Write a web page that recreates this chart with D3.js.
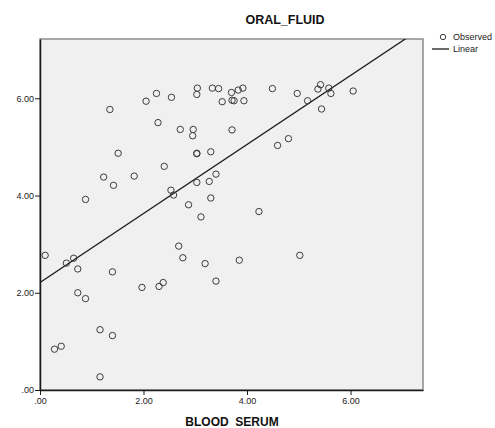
<!DOCTYPE html>
<html>
<head>
<meta charset="utf-8">
<script src="https://cdn.jsdelivr.net/npm/d3@7"></script>
<style>
  body { margin: 0; background: #fff; }
  text { font-family: "Liberation Sans", Arial, sans-serif; }
</style>
</head>
<body>
<script>
// blood serum (x) vs oral fluid (y)
var serum = [0.88, 1.35, 1.51, 1.23, 1.42, 1.82, 2.05, 2.25, 2.54, 2.28, 2.71, 2.40, 2.53, 2.58,
  2.87, 3.11, 2.96, 2.95, 3.03, 3.03, 3.03, 3.04, 3.03, 3.30, 3.27, 3.40, 3.30, 3.33, 3.45,
  3.52, 3.70, 3.71, 3.75, 3.83, 3.92, 3.94, 3.71, 4.49, 4.97, 5.17, 5.42, 5.37, 5.58, 5.62,
  5.44, 6.05, 4.80, 4.59, 4.23, 0.10, 0.51, 0.65, 0.73, 0.73, 0.88, 0.28, 0.41, 1.16, 1.40,
  1.16, 1.40, 1.97, 2.30, 2.38, 2.68, 2.76, 3.19, 3.40, 3.85, 5.02];
var oral = [3.92, 5.77, 4.87, 4.38, 4.21, 4.40, 5.94, 6.10, 6.02, 5.50, 5.36, 4.60, 4.11, 4.01,
  3.81, 3.56, 5.36, 5.23, 4.86, 4.87, 4.27, 6.21, 6.08, 4.90, 4.29, 4.44, 3.95, 6.21, 6.20,
  5.93, 6.12, 5.96, 5.95, 6.17, 6.21, 5.95, 5.35, 6.20, 6.10, 5.95, 6.28, 6.19, 6.21, 6.10,
  5.78, 6.15, 5.17, 5.03, 3.67, 2.77, 2.61, 2.71, 2.49, 2.00, 1.88, 0.84, 0.90, 1.24, 1.12,
  0.27, 2.43, 2.11, 2.13, 2.21, 2.96, 2.72, 2.60, 2.24, 2.67, 2.77];
var xTicks = [0, 2, 4, 6];
var yTicks = [0, 2, 4, 6];
var fitIntercept = 2.21, fitSlope = 0.71;
var legendItems = ["Observed", "Linear"];

var width = 495, height = 428;
var margin = {top: 39, right: 72, bottom: 38, left: 40};

var svg = d3.select("body").append("svg")
  .attr("width", width)
  .attr("height", height);

var x = d3.scaleLinear().domain([0, 7.4]).range([margin.left, width - margin.right]);
var y = d3.scaleLinear().domain([0, 7.22]).range([height - margin.bottom, margin.top]);

var fmt = function(d){ return d === 0 ? ".00" : d3.format(".2f")(d); };

svg.append("defs").append("clipPath").attr("id", "plotClip")
  .append("rect")
  .attr("x", x(0)).attr("y", y(7.22))
  .attr("width", x(7.4) - x(0)).attr("height", y(0) - y(7.22));

// plot background + frame
svg.append("rect")
  .attr("x", x(0)).attr("y", y(7.22))
  .attr("width", x(7.4) - x(0)).attr("height", y(0) - y(7.22))
  .attr("fill", "#f0f0f0")
  .attr("stroke", "#8c8c8c")
  .attr("stroke-width", 1.5);

// fit line
svg.append("line")
  .attr("clip-path", "url(#plotClip)")
  .attr("x1", x(0)).attr("y1", y(fitIntercept))
  .attr("x2", x(7.4)).attr("y2", y(fitIntercept + fitSlope * 7.4))
  .attr("stroke", "#1a1a1a")
  .attr("stroke-width", 1.3);

// points
svg.append("g").selectAll("circle")
  .data(serum)
  .enter()
  .append("circle")
  .attr("cx", function(d){ return x(d); })
  .attr("cy", function(d, i){ return y(oral[i]); })
  .attr("r", 3.2)
  .attr("fill", "none")
  .attr("stroke", "#3c3c3c")
  .attr("stroke-width", 1);

// axes
var xAxis = svg.append("g")
  .attr("transform", "translate(0," + y(0) + ")")
  .call(d3.axisBottom(x).tickValues(xTicks).tickFormat(fmt).tickSize(5).tickSizeOuter(0));
var yAxis = svg.append("g")
  .attr("transform", "translate(" + x(0) + ",0)")
  .call(d3.axisLeft(y).tickValues(yTicks).tickFormat(fmt).tickSize(5).tickSizeOuter(0));

[xAxis, yAxis].forEach(function(a){
  a.select(".domain").attr("stroke", "#1a1a1a").attr("stroke-width", 1.5);
  a.selectAll(".tick line").attr("stroke", "#1a1a1a");
  a.selectAll(".tick text")
    .attr("font-family", "Liberation Sans, Arial, sans-serif")
    .attr("font-size", 9)
    .attr("fill", "#222");
});
yAxis.selectAll(".tick text").attr("x", -6);
xAxis.selectAll(".tick text").attr("y", 8);

// titles
svg.append("text")
  .attr("x", 285).attr("y", 24)
  .attr("text-anchor", "middle")
  .attr("font-size", 12.5)
  .attr("font-weight", "bold")
  .attr("fill", "#111")
  .text("ORAL_FLUID");

svg.append("text")
  .attr("x", 232).attr("y", 426)
  .attr("text-anchor", "middle")
  .attr("font-size", 12)
  .attr("font-weight", "bold")
  .attr("fill", "#111")
  .style("white-space", "pre")
  .text("BLOOD  SERUM");

// legend
var legend = svg.append("g").attr("class", "legend").attr("transform", "translate(432,37)");
legend.append("circle")
  .attr("cx", 11).attr("cy", 0).attr("r", 2.7)
  .attr("fill", "none").attr("stroke", "#3c3c3c");
legend.append("line")
  .attr("x1", 0).attr("x2", 17).attr("y1", 12).attr("y2", 12)
  .attr("stroke", "#1a1a1a").attr("stroke-width", 1.3);
legend.selectAll("text.legendLabel")
  .data(legendItems)
  .enter()
  .append("text")
  .attr("class", "legendLabel")
  .attr("x", 21)
  .attr("y", function(d, i){ return i * 12 + 3; })
  .attr("font-size", 9)
  .attr("fill", "#222")
  .text(function(d){ return d; });
</script>
</body>
</html>
